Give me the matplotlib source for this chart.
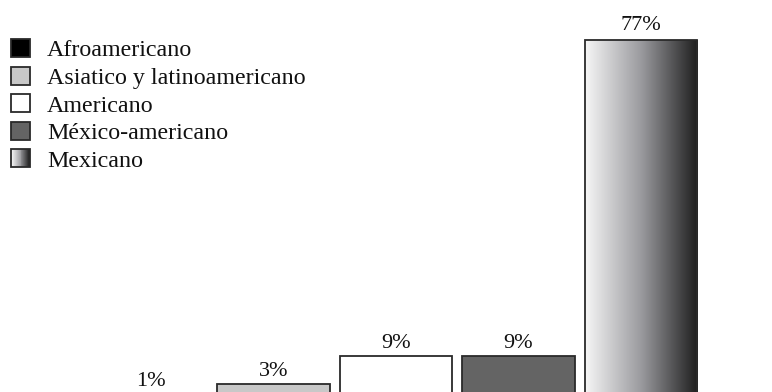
import numpy as np
import matplotlib.pyplot as plt
from matplotlib.patches import Rectangle, Patch
from matplotlib.legend_handler import HandlerBase
from matplotlib.colors import LinearSegmentedColormap

plt.rcParams['font.family'] = ['Liberation Serif', 'DejaVu Serif']

groups = ["Afroamericano", "Asiatico y latinoamericano", "Americano",
          "México-americano", "Mexicano"]
values = [1, 3, 9, 9, 77]
labels = ["1%", "3%", "9%", "9%", "77%"]
fills = ["#000000", "#c8c8c8", "#ffffff", "#646464", None]

EDGE = "#2a2a2a"
grad = LinearSegmentedColormap.from_list("grad", ["#f6f6f6", "#9a9a9e", "#1e1e1e"])


class GradientHandler(HandlerBase):
    # legend key made of thin vertical strips going light -> dark
    def create_artists(self, legend, orig_handle, xdescent, ydescent,
                       width, height, fontsize, trans):
        n = 20
        arts = []
        for i in range(n):
            r = Rectangle((-xdescent + width * i / n, -ydescent), width / n + 0.3, height,
                          facecolor=grad(i / (n - 1)), edgecolor="none", transform=trans)
            arts.append(r)
        arts.append(Rectangle((-xdescent, -ydescent), width, height, facecolor="none",
                              edgecolor=EDGE, lw=1.3, transform=trans))
        return arts


fig = plt.figure(figsize=(7.72, 3.92), dpi=100)
ax = fig.add_axes([0, 0, 1, 1])

x = np.arange(len(values))
bars = ax.bar(x, values, width=0.92, edgecolor=EDGE, linewidth=1.3,
              color=[f if f else "none" for f in fills], zorder=2)

# gradient fill for the last bar
b = bars[-1]
gimg = np.linspace(0, 1, 256).reshape(1, -1)
im = ax.imshow(gimg, cmap=grad, aspect="auto", zorder=1,
               extent=[b.get_x(), b.get_x() + b.get_width(), 0, b.get_height()])
im.set_clip_path(b)

for xi, v, lab in zip(x, values, labels):
    off = 8.5 if v < 50 else 10
    ax.annotate(lab, (xi, v), xytext=(0, off), textcoords="offset points",
                ha="center", va="center", fontsize=16, color="#111111",
                annotation_clip=False)

ax.set_xlim(-1.233, 5.07)
ax.set_ylim(1.2, 85.5)
ax.axis("off")

handles = [Patch(facecolor=f, edgecolor=EDGE, lw=1.3) for f in fills[:-1]]
handles.append(Patch(facecolor="none", edgecolor=EDGE))
hmap = {handles[-1]: GradientHandler()}

fs = 17.3
fpx = fs * 100 / 72
leg = ax.legend(handles, groups, handler_map=hmap, loc="upper left",
                bbox_to_anchor=(11 / 772, 1 - 39 / 392), bbox_transform=fig.transFigure,
                frameon=False, fontsize=fs, borderpad=0, borderaxespad=0,
                handlelength=19 / fpx, handleheight=19 / fpx,
                handletextpad=17 / fpx, labelspacing=0.21)
for t in leg.get_texts():
    t.set_color("#111111")

fig.savefig("out.png", dpi=100, facecolor="white")
